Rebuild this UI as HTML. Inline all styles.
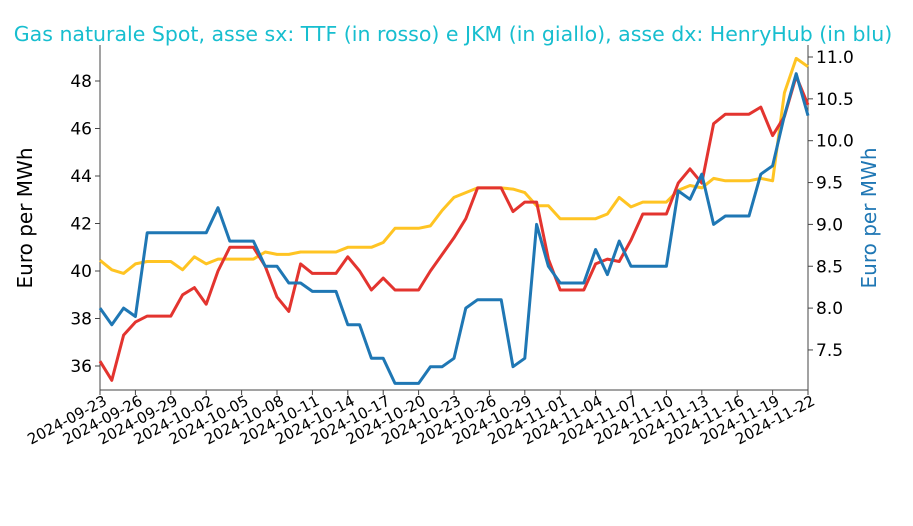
<!DOCTYPE html>
<html><head><meta charset="utf-8"><style>
body{margin:0;background:#fff;}
svg text{font-family:"DejaVu Sans","Liberation Sans",sans-serif;}
</style></head><body>
<svg id="chart" width="913" height="521">
<text x="453" y="41" text-anchor="middle" font-size="20.5" fill="#17becf">Gas naturale Spot, asse sx: TTF (in rosso) e JKM (in giallo), asse dx: HenryHub (in blu)</text>
<g id="axes"></g>
<g id="lines"></g>
<text transform="translate(32,218) rotate(-90)" text-anchor="middle" font-size="20" fill="#000">Euro per MWh</text>
<text transform="translate(876,218) rotate(-90)" text-anchor="middle" font-size="20" fill="#1f77b4">Euro per MWh</text>
</svg>
<script>
const startDate = "2024-09-23";
const ttf = [36.2,35.4,37.3,37.85,38.1,38.1,38.1,39.0,39.3,38.6,40.0,41.0,41.0,41.0,40.2,38.9,38.3,40.3,39.9,39.9,39.9,40.6,40.0,39.2,39.7,39.2,39.2,39.2,40.0,40.7,41.4,42.2,43.5,43.5,43.5,42.5,42.9,42.9,40.5,39.2,39.2,39.2,40.3,40.5,40.4,41.3,42.4,42.4,42.4,43.7,44.3,43.7,46.2,46.6,46.6,46.6,46.9,45.7,46.5,48.2,47.0];
const jkm = [40.45,40.05,39.9,40.3,40.4,40.4,40.4,40.05,40.6,40.3,40.5,40.5,40.5,40.5,40.8,40.7,40.7,40.8,40.8,40.8,40.8,41.0,41.0,41.0,41.2,41.8,41.8,41.8,41.9,42.55,43.1,43.3,43.5,43.5,43.5,43.45,43.3,42.75,42.75,42.2,42.2,42.2,42.2,42.4,43.1,42.7,42.9,42.9,42.9,43.4,43.6,43.5,43.9,43.8,43.8,43.8,43.9,43.8,47.5,48.95,48.6];
const henryHub = [8.0,7.8,8.0,7.9,8.9,8.9,8.9,8.9,8.9,8.9,9.2,8.8,8.8,8.8,8.5,8.5,8.3,8.3,8.2,8.2,8.2,7.8,7.8,7.4,7.4,7.1,7.1,7.1,7.3,7.3,7.4,8.0,8.1,8.1,8.1,7.3,7.4,9.0,8.5,8.3,8.3,8.3,8.7,8.4,8.8,8.5,8.5,8.5,8.5,9.4,9.3,9.6,9.0,9.1,9.1,9.1,9.6,9.7,10.3,10.8,10.3];
const leftTicks = [36,38,40,42,44,46,48];
const rightTicks = [7.5,8.0,8.5,9.0,9.5,10.0,10.5,11.0];
const dayCount = 61;

const X0=100,X1=808,YB=390,YT=45;
const xs = i => X0 + i*(X1-X0)/(dayCount-1);
const yL = v => 366 - (v-36)*23.75;
const yR = v => 57 + (11-v)*83.7;
const NS="http://www.w3.org/2000/svg";
const axes=document.getElementById('axes'), lines=document.getElementById('lines');
function mk(tag,attrs,parent){const e=document.createElementNS(NS,tag);for(const k in attrs)e.setAttribute(k,attrs[k]);parent.appendChild(e);return e;}

let e=mk('line',{x1:X0,y1:YT,x2:X0,y2:YB,stroke:'#444','stroke-width':1},axes);


e=mk('line',{x1:X1,y1:YT,x2:X1,y2:YB,stroke:'#444','stroke-width':1},axes);


e=mk('line',{x1:X0,y1:YB,x2:X1,y2:YB,stroke:'#444','stroke-width':1},axes);



leftTicks.forEach(v=>{
  const y=yL(v);
  mk('line',{x1:X0-5,y1:y,x2:X0,y2:y,stroke:'#444'},axes);
  const t=mk('text',{x:X0-8,y:y+6,'text-anchor':'end','font-size':17,fill:'#000'},axes);
  t.textContent=v;
  
  
});
rightTicks.forEach(v=>{
  const y=yR(v);
  mk('line',{x1:X1,y1:y,x2:X1+5,y2:y,stroke:'#444'},axes);
  const t=mk('text',{x:X1+8,y:y+6,'text-anchor':'start','font-size':17,fill:'#000'},axes);
  t.textContent=v.toFixed(1);
  
  
});
const sd=new Date(startDate+"T00:00:00Z");
for(let i=0;i<dayCount;i+=3){
  const x=xs(i);
  mk('line',{x1:x,y1:YB,x2:x,y2:YB+5,stroke:'#444'},axes);
  const d=new Date(sd.getTime()+i*86400000);
  const t=mk('text',{transform:`translate(${x+8},${YB+14}) rotate(-28)`,'text-anchor':'end','font-size':15,fill:'#000'},axes);
  t.textContent=d.toISOString().slice(0,10);
  
  
}
function series(arr,yf,color,name){
  const p=mk('polyline',{points:arr.map((v,i)=>xs(i).toFixed(1)+','+yf(v).toFixed(1)).join(' '),fill:'none',stroke:color,'stroke-width':3,'stroke-linejoin':'round'},lines);
  
  
}
series(jkm,yL,'#ffc423','jkm-line');
series(ttf,yL,'#e3342f','ttf-line');
series(henryHub,yR,'#1f77b4','henryhub-line');
</script>
</body></html>
